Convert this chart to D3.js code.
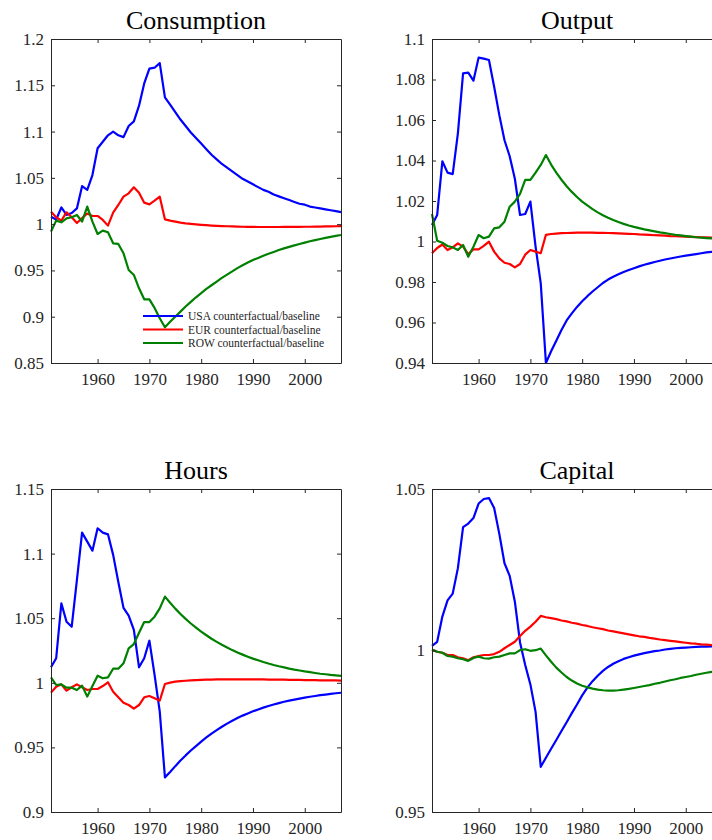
<!DOCTYPE html>
<html>
<head>
<meta charset="utf-8">
<script src="https://cdn.jsdelivr.net/npm/d3@7"></script>
<style>
  html, body { margin: 0; padding: 0; background: #ffffff; overflow: hidden; }
  svg { display: block; }
</style>
</head>
<body>
<svg id="chart" width="712" height="840"></svg>
<script>
// ---------- DATA ----------
const years = [1951,1952,1953,1954,1955,1956,1957,1958,1959,1960,
  1961,1962,1963,1964,1965,1966,1967,1968,1969,1970,
  1971,1972,1973,1974,1975,1976,1977,1978,1979,1980,
  1981,1982,1983,1984,1985,1986,1987,1988,1989,1990,
  1991,1992,1993,1994,1995,1996,1997,1998,1999,2000,
  2001,2002,2003,2004,2005,2006,2007];

const seriesNames = ["USA counterfactual/baseline", "EUR counterfactual/baseline", "ROW counterfactual/baseline"];
const seriesColors = ["#0000ff", "#ff0000", "#008000"];
const panelTitles = ["Consumption", "Output", "Hours", "Capital"];
const xTicks = [1960, 1970, 1980, 1990, 2000];

// Consumption
const consUSA = [1.008,1.005,1.018,1.010,1.012,1.017,1.041,1.037,1.053,1.082,
  1.089,1.096,1.100,1.096,1.094,1.106,1.111,1.128,1.152,1.168,
  1.169,1.174,1.137,1.129,1.121,1.113,1.106,1.099,1.093,1.087,
  1.081,1.075,1.070,1.065,1.061,1.057,1.053,1.049,1.046,1.043,
  1.040,1.037,1.035,1.032,1.030,1.028,1.026,1.024,1.022,1.021,
  1.019,1.018,1.017,1.016,1.015,1.014,1.013];
const consEUR = [1.0135,1.0074,1.0038,1.0128,1.0074,1.0012,1.0065,1.0115,1.0088,1.0088,
  1.0045,0.9984,1.0124,1.0207,1.0297,1.0333,1.0398,1.034,1.0232,1.0214,
  1.0254,1.0297,1.0052,1.0038,1.0027,1.0017,1.0009,1.0003,0.9998,0.9993,
  0.9989,0.9985,0.9982,0.9979,0.9977,0.9975,0.9973,0.9972,0.9971,0.997,
  0.9969,0.9969,0.9969,0.9969,0.9969,0.997,0.997,0.9971,0.9971,0.9972,
  0.9972,0.9973,0.9974,0.9975,0.9976,0.9977,0.9978];
const consROW = [0.9919,1.0038,1.002,1.0063,1.0074,1.0099,1.0027,1.0189,1.0027,0.9894,
  0.993,0.9912,0.9793,0.9786,0.9685,0.9505,0.9451,0.9307,0.9188,0.9188,
  0.9095,0.8983,0.8886,0.8945,0.900,0.9055,0.911,0.916,0.921,0.9255,
  0.930,0.934,0.938,0.942,0.9455,0.949,0.9525,0.9555,0.9585,0.9613,
  0.9635,0.9658,0.968,0.970,0.972,0.9738,0.9755,0.977,0.9785,0.980,
  0.9815,0.9828,0.984,0.9852,0.9863,0.9873,0.9883];

// Output
const outUSA = [1.0082,1.0131,1.0396,1.034,1.0333,1.0534,1.083,1.0834,1.0794,1.0908,
  1.0903,1.0896,1.0764,1.0624,1.050,1.0421,1.031,1.0131,1.0136,1.0197,
  0.9975,0.9793,0.940,0.9458,0.951,0.9563,0.961,0.9645,0.9677,0.9705,
  0.973,0.9753,0.9774,0.9795,0.9812,0.9826,0.9838,0.9849,0.9859,0.9868,
  0.9877,0.9885,0.9892,0.9899,0.9905,0.9911,0.9916,0.9921,0.9926,0.993,
  0.9934,0.9938,0.9942,0.9946,0.9949,0.9952,0.9955];
const outEUR = [0.9942,0.9968,0.9985,0.9958,0.9971,0.9991,0.9975,0.9938,0.9961,0.9961,
  0.9978,0.9999,0.995,0.9917,0.9895,0.9889,0.9872,0.9889,0.9935,0.9958,
  0.995,0.9942,1.0033,1.0037,1.0039,1.0041,1.0042,1.0043,1.0044,1.0044,
  1.0044,1.0044,1.0043,1.0043,1.0042,1.0041,1.004,1.0039,1.0038,1.0037,
  1.0035,1.0034,1.0033,1.0031,1.003,1.0029,1.0027,1.0026,1.0025,1.0024,
  1.0023,1.0022,1.0021,1.002,1.0019,1.0018,1.0017];
const outROW = [1.0136,1.0004,0.9994,0.9978,0.9971,0.9958,0.9983,0.9925,0.9974,1.0032,
  1.0016,1.0024,1.0065,1.007,1.0098,1.0172,1.0197,1.0235,1.0304,1.0304,
  1.034,1.0378,1.0427,1.038,1.034,1.0305,1.0273,1.0245,1.022,1.0197,
  1.0178,1.016,1.0144,1.013,1.0117,1.0106,1.0096,1.0087,1.0079,1.0072,
  1.0066,1.006,1.0055,1.005,1.0045,1.0041,1.0037,1.0033,1.003,1.0027,
  1.0024,1.0021,1.0019,1.0017,1.0015,1.0013,1.0012];

// Hours
const hoursUSA = [1.012,1.019,1.0615,1.0473,1.0434,1.0795,1.1162,1.1093,1.1023,1.1196,
  1.1162,1.1149,1.099,1.078,1.058,1.052,1.0409,1.012,1.019,1.0326,
  1.0061,0.9777,0.9268,0.931,0.9355,0.9398,0.9438,0.9476,0.951,0.9545,
  0.9577,0.9607,0.9634,0.966,0.9684,0.9706,0.9727,0.9746,0.9763,0.9779,
  0.9794,0.9808,0.982,0.9832,0.9843,0.9853,0.9862,0.987,0.9878,0.9885,
  0.9892,0.9898,0.9904,0.9909,0.9914,0.9919,0.9923];
const hoursEUR = [0.9924,0.997,0.9988,0.9939,0.9965,0.9988,0.9965,0.9944,0.9952,0.9952,
  0.9975,1.0004,0.9931,0.9888,0.9846,0.9828,0.980,0.9828,0.9888,0.9898,
  0.988,0.9862,0.9991,1.0001,1.0009,1.0013,1.0016,1.0019,1.0021,1.0023,
  1.0024,1.0025,1.0026,1.0026,1.0027,1.0027,1.0027,1.0027,1.0027,1.0027,
  1.0026,1.0026,1.0025,1.0025,1.0024,1.0024,1.0023,1.0023,1.0022,1.0021,
  1.0021,1.002,1.0019,1.0019,1.0018,1.0018,1.0017];
const hoursROW = [1.0042,0.9983,0.9988,0.9962,0.9962,0.9944,0.9978,0.9893,0.9975,1.0055,
  1.0035,1.0042,1.0109,1.0109,1.0151,1.0267,1.030,1.0388,1.047,1.047,
  1.0512,1.0576,1.0667,1.0619,1.0574,1.0533,1.0495,1.0459,1.0427,1.0396,
  1.0368,1.0341,1.0317,1.0294,1.0273,1.0253,1.0235,1.0218,1.0202,1.0187,
  1.0174,1.0161,1.0149,1.0138,1.0128,1.0119,1.011,1.0102,1.0095,1.0088,
  1.0082,1.0076,1.007,1.0066,1.0061,1.0057,1.0053];

// Capital
const capUSA = [1.0014,1.0027,1.0105,1.0155,1.0176,1.0255,1.0382,1.0393,1.041,1.0455,
  1.0469,1.0472,1.0441,1.0361,1.027,1.0231,1.0151,1.0025,0.9955,0.9895,
  0.981,0.964,0.9668,0.9696,0.9723,0.9751,0.9778,0.9806,0.9833,0.9861,
  0.9885,0.9905,0.9922,0.9937,0.9949,0.9959,0.9967,0.9974,0.9979,0.9984,
  0.9988,0.9992,0.9995,0.9998,1.0,1.0003,1.0005,1.0007,1.0008,1.0009,
  1.001,1.0011,1.0012,1.0012,1.0013,1.0013,1.0014];
const capEUR = [1.0002,0.9996,0.9993,0.9986,0.9986,0.9979,0.9976,0.997,0.9979,0.9983,
  0.9986,0.9986,0.9989,0.9996,1.0007,1.0017,1.0027,1.0045,1.0061,1.0074,
  1.0089,1.0107,1.0103,1.01,1.0097,1.0093,1.009,1.0086,1.0083,1.0079,
  1.0076,1.0072,1.0069,1.0066,1.0062,1.0059,1.0056,1.0053,1.005,1.0047,
  1.0044,1.0042,1.0039,1.0037,1.0034,1.0032,1.003,1.0028,1.0026,1.0024,
  1.0022,1.0021,1.0019,1.0018,1.0017,1.0016,1.0015];
const capROW = [1.0003,0.9996,0.9993,0.9983,0.9981,0.9976,0.9973,0.9968,0.9977,0.9981,
  0.9976,0.9975,0.9979,0.9981,0.9986,0.9991,0.9991,1.0001,1.0004,0.9999,
  1.0001,1.0006,0.9985,0.9965,0.9947,0.9932,0.9918,0.9907,0.9898,0.9891,
  0.9886,0.9882,0.9879,0.9877,0.9876,0.9876,0.9877,0.9879,0.9881,0.9884,
  0.9887,0.989,0.9893,0.9897,0.99,0.9904,0.9908,0.9911,0.9915,0.9918,
  0.9921,0.9925,0.9928,0.9931,0.9934,0.9937,0.994];

// y ticks per panel
const consTicks = [0.85, 0.9, 0.95, 1, 1.05, 1.1, 1.15, 1.2];
const outTicks = [0.94, 0.96, 0.98, 1, 1.02, 1.04, 1.06, 1.08, 1.1];
const hoursTicks = [0.9, 0.95, 1, 1.05, 1.1, 1.15];
const capTicks = [0.95, 1, 1.05];

// ---------- LAYOUT ----------
const svg = d3.select("#chart");
const W = 290;               // axes width
const colX = [51, 432];      // axes left edges
const rowY = [[39, 363], [489, 812]]; // axes top/bottom
const axisColor = "#262626";
const serif = "'Liberation Serif', 'Times New Roman', serif";

const panels = [
  { title: panelTitles[0], col: 0, row: 0, ticks: consTicks, data: [consUSA, consEUR, consROW], legend: true },
  { title: panelTitles[1], col: 1, row: 0, ticks: outTicks, data: [outUSA, outEUR, outROW] },
  { title: panelTitles[2], col: 0, row: 1, ticks: hoursTicks, data: [hoursUSA, hoursEUR, hoursROW] },
  { title: panelTitles[3], col: 1, row: 1, ticks: capTicks, data: [capUSA, capEUR, capROW] }
];

const fmt = v => String(+v.toFixed(2));

panels.forEach(p => {
  const x0 = colX[p.col], x1 = x0 + W;
  const y0 = rowY[p.row][0], y1 = rowY[p.row][1];
  const x = d3.scaleLinear().domain([years[0], years[years.length - 1]]).range([x0, x1]);
  const y = d3.scaleLinear().domain([p.ticks[0], p.ticks[p.ticks.length - 1]]).range([y1, y0]);

  const g = svg.append("g");

  // lines
  const line = d3.line().x((d, i) => x(years[i])).y(d => y(d));
  p.data.forEach((arr, k) => {
    g.append("path")
      .datum(arr)
      .attr("d", line)
      .attr("fill", "none")
      .attr("stroke", seriesColors[k])
      .attr("stroke-width", 2.2)
      .attr("stroke-linejoin", "round")
      .attr("stroke-linecap", "butt");
  });

  // axes (ticks inside)
  const styleAxis = sel => {
    sel.selectAll(".domain").attr("stroke", axisColor).attr("stroke-width", 1);
    sel.selectAll(".tick line").attr("stroke", axisColor).attr("stroke-width", 1);
    sel.selectAll("text").attr("fill", axisColor).attr("font-family", serif).attr("font-size", 17);
  };
  g.append("g").attr("transform", `translate(0,${y1})`)
    .call(d3.axisBottom(x).tickValues(xTicks).tickFormat(d3.format("d")).tickSize(-4).tickSizeOuter(0).tickPadding(10))
    .call(styleAxis);
  g.append("g").attr("transform", `translate(0,${y0})`)
    .call(d3.axisTop(x).tickValues(xTicks).tickFormat("").tickSize(-4).tickSizeOuter(0))
    .call(styleAxis);
  g.append("g").attr("transform", `translate(${x0},0)`)
    .call(d3.axisLeft(y).tickValues(p.ticks).tickFormat(fmt).tickSize(-4).tickSizeOuter(0).tickPadding(7))
    .call(styleAxis);
  g.append("g").attr("transform", `translate(${x1},0)`)
    .call(d3.axisRight(y).tickValues(p.ticks).tickFormat("").tickSize(-4).tickSizeOuter(0))
    .call(styleAxis);

  // title
  g.append("text")
    .attr("x", (x0 + x1) / 2)
    .attr("y", y0 - 10)
    .attr("text-anchor", "middle")
    .attr("font-family", serif)
    .attr("font-size", 26)
    .attr("fill", "#000")
    .text(p.title);

  // legend
  if (p.legend) {
    const lg = g.append("g");
    const lx0 = 143, lx1 = 183, ly = [316, 329.5, 343];
    seriesNames.forEach((name, k) => {
      lg.append("line")
        .attr("x1", lx0).attr("x2", lx1)
        .attr("y1", ly[k]).attr("y2", ly[k])
        .attr("stroke", seriesColors[k]).attr("stroke-width", 2.2);
      lg.append("text")
        .attr("x", lx1 + 5).attr("y", ly[k])
        .attr("dy", "0.35em")
        .attr("font-family", serif)
        .attr("font-size", 11.5)
        .attr("fill", axisColor)
        .text(name);
    });
  }
});
</script>
</body>
</html>
